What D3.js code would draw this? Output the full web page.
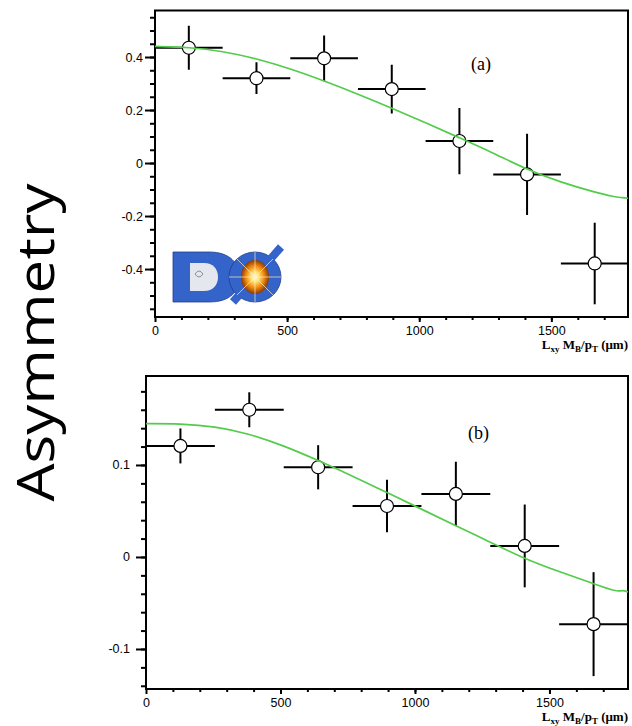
<!DOCTYPE html>
<html>
<head>
<meta charset="utf-8">
<script src="https://cdn.jsdelivr.net/npm/d3@7"></script>
<style>
  html, body { margin: 0; padding: 0; background: #fff; }
  svg { display: block; }
</style>
</head>
<body>
<svg id="chart" width="632" height="726"></svg>
<script>
// ---------- data ----------
const binCenters = [128, 384, 640, 896, 1152, 1408, 1664];
const binHalfWidth = 128;

const asymA = [0.435, 0.32, 0.395, 0.279, 0.083, -0.043, -0.379];
const errA  = [0.083, 0.06, 0.086, 0.092, 0.125, 0.153, 0.154];

const asymB = [0.1207, 0.16, 0.0975, 0.0554, 0.0685, 0.012, -0.073];
const errB  = [0.019, 0.019, 0.024, 0.0286, 0.035, 0.045, 0.0565];

const fitXA = [0, 128, 256, 384, 512, 640, 768, 896, 1024, 1152, 1280, 1408, 1536, 1664, 1740, 1760, 1790];
const fitYA = [0.44, 0.437, 0.422, 0.394, 0.356, 0.31, 0.26, 0.207, 0.152, 0.095, 0.038, -0.025, -0.073, -0.11, -0.128, -0.13, -0.133];

const fitXB = [0, 128, 256, 384, 512, 640, 768, 896, 1024, 1152, 1280, 1408, 1536, 1664, 1750, 1770, 1792];
const fitYB = [0.145, 0.145, 0.142, 0.134, 0.121, 0.105, 0.088, 0.07, 0.052, 0.034, 0.016, -0.002, -0.016, -0.029, -0.038, -0.036, -0.038];

const xTickLabels = [0, 500, 1000, 1500];
const yTicksA = [-0.4, -0.2, 0, 0.2, 0.4];
const yTicksB = [-0.1, 0, 0.1];
const panelLabels = ["(a)", "(b)"];
const yTitle = "Asymmetry";

// ---------- drawing ----------
const svg = d3.select("#chart");
svg.append("rect").attr("width", 632).attr("height", 726).attr("fill", "#fff");

const green = "#52cc4a";

function drawPanel(cfg) {
  const x = d3.scaleLinear().domain(cfg.xDomain).range([cfg.left, cfg.right]);
  const y = d3.scaleLinear().domain(cfg.yDomain).range([cfg.bottom, cfg.top]);
  const g = svg.append("g");

  // y minor ticks
  g.append("g").attr("transform", `translate(${cfg.left},0)`)
    .call(d3.axisLeft(y).tickValues(cfg.yMinor).tickSize(5).tickFormat(""))
    .call(s => s.select(".domain").remove())
    .selectAll("line").attr("stroke", "#000").attr("stroke-width", 2);
  // y major ticks
  const ya = g.append("g").attr("transform", `translate(${cfg.left},0)`)
    .call(d3.axisLeft(y).tickValues(cfg.yTicks).tickSize(10).tickPadding(cfg.yPad).tickFormat(d => String(d)));
  ya.select(".domain").remove();
  ya.selectAll("line").attr("stroke", "#000").attr("stroke-width", 2);
  ya.selectAll("text").attr("font-family", "Liberation Sans, Arial, sans-serif").attr("font-size", 12.5).attr("fill", "#000");

  // x minor ticks
  g.append("g").attr("transform", `translate(0,${cfg.bottom})`)
    .call(d3.axisBottom(x).tickValues(d3.range(100, cfg.xDomain[1], 100)).tickSize(3).tickFormat(""))
    .call(s => s.select(".domain").remove())
    .selectAll("line").attr("stroke", "#000").attr("stroke-width", 2);
  // x major ticks
  const xa = g.append("g").attr("transform", `translate(0,${cfg.bottom})`)
    .call(d3.axisBottom(x).tickValues(xTickLabels).tickSize(5).tickPadding(4).tickFormat(d => String(d)));
  xa.select(".domain").remove();
  xa.selectAll("line").attr("stroke", "#000").attr("stroke-width", 2);
  xa.selectAll("text").attr("font-family", "Liberation Sans, Arial, sans-serif").attr("font-size", 12.5).attr("fill", "#000");

  // frame
  g.append("rect")
    .attr("x", cfg.left).attr("y", cfg.top)
    .attr("width", cfg.right - cfg.left).attr("height", cfg.bottom - cfg.top)
    .attr("fill", "none").attr("stroke", "#000").attr("stroke-width", 2);

  // x axis title
  const t = g.append("text")
    .attr("x", cfg.right).attr("y", cfg.titleY)
    .attr("text-anchor", "end")
    .attr("font-family", "Liberation Serif, Times New Roman, serif")
    .attr("font-weight", "bold").attr("font-size", 13).attr("fill", "#000");
  const parts = [["L", 0], ["xy", 1], [" M", 0], ["B", 1], ["/p", 0], ["T", 1], [" (\u03bcm)", 0]];
  let prevSub = 0;
  parts.forEach(([s, sub]) => {
    const dy = sub && !prevSub ? 3 : (!sub && prevSub ? -3 : 0);
    t.append("tspan").attr("dy", dy).attr("font-size", sub ? 9 : 13).text(s);
    prevSub = sub;
  });

  // panel label
  g.append("text")
    .attr("x", cfg.labelX).attr("y", cfg.labelY)
    .attr("font-family", "Liberation Serif, Times New Roman, serif")
    .attr("font-size", 18).attr("fill", "#000")
    .text(cfg.label);

  // data points with error bars
  const clipId = "clip" + cfg.label.replace(/\W/g, "");
  svg.append("clipPath").attr("id", clipId).append("rect")
    .attr("x", cfg.left).attr("y", cfg.top)
    .attr("width", cfg.right - cfg.left).attr("height", cfg.bottom - cfg.top);
  const pts = g.append("g").attr("clip-path", `url(#${clipId})`);
  const data = binCenters.map((c, i) => ({ x: c, y: cfg.vals[i], e: cfg.errs[i] }));
  pts.selectAll("line.h").data(data).join("line").attr("class", "h")
    .attr("x1", d => x(d.x - binHalfWidth)).attr("x2", d => x(d.x + binHalfWidth))
    .attr("y1", d => y(d.y)).attr("y2", d => y(d.y))
    .attr("stroke", "#000").attr("stroke-width", 2);
  pts.selectAll("line.v").data(data).join("line").attr("class", "v")
    .attr("x1", d => x(d.x)).attr("x2", d => x(d.x))
    .attr("y1", d => y(d.y - d.e)).attr("y2", d => y(d.y + d.e))
    .attr("stroke", "#000").attr("stroke-width", 2);
  pts.selectAll("circle").data(data).join("circle")
    .attr("cx", d => x(d.x)).attr("cy", d => y(d.y)).attr("r", 6.5)
    .attr("fill", "#fff").attr("stroke", "#000").attr("stroke-width", 1.2);

  // fit curve
  const line = d3.line().x(d => x(d[0])).y(d => y(d[1])).curve(d3.curveBasis);
  pts.append("path")
    .datum(cfg.fitX.map((v, i) => [v, cfg.fitY[i]]))
    .attr("d", line).attr("fill", "none").attr("stroke", green).attr("stroke-width", 1.7);

  return { x, y };
}

drawPanel({
  left: 155, right: 628, top: 10.5, bottom: 317,
  xDomain: [0, 1790], yDomain: [-0.581, 0.5755],
  yTicks: yTicksA, yMinor: d3.range(-0.55, 0.56, 0.05).map(v => +v.toFixed(2)),
  yPad: 2, titleY: 349, label: panelLabels[0], labelX: 471, labelY: 70,
  vals: asymA, errs: errA, fitX: fitXA, fitY: fitYA
});

drawPanel({
  left: 146, right: 628, top: 376, bottom: 689,
  xDomain: [0, 1792], yDomain: [-0.1435, 0.1967],
  yTicks: yTicksB, yMinor: d3.range(-0.14, 0.19, 0.02).map(v => +v.toFixed(2)),
  yPad: 6, titleY: 721, label: panelLabels[1], labelX: 468, labelY: 439,
  vals: asymB, errs: errB, fitX: fitXB, fitY: fitYB
});

// y title
svg.append("text")
  .attr("transform", "translate(54,342.5) rotate(-90)")
  .attr("text-anchor", "middle")
  .attr("font-family", "Open Sans, DejaVu Sans, sans-serif")
  .attr("font-weight", 400)
  .attr("font-size", 52)
  .attr("textLength", 318).attr("lengthAdjust", "spacingAndGlyphs")
  .attr("fill", "#000")
  .text(yTitle);

// D0 logo (approximation)
const defs = svg.append("defs");
const rg = defs.append("radialGradient").attr("id", "burst");
rg.append("stop").attr("offset", "0%").attr("stop-color", "#ffffff");
rg.append("stop").attr("offset", "30%").attr("stop-color", "#ffe070");
rg.append("stop").attr("offset", "65%").attr("stop-color", "#f08a10");
rg.append("stop").attr("offset", "100%").attr("stop-color", "#8a3a05");

const logo = svg.append("g").attr("transform", "translate(171,246)");
const blue = "#3463c9";
const dark = "#1f3f8f";
logo.append("path")
  .attr("d", "M2,6 L38,6 C60,6 68,18 68,31 C68,45 60,56 38,56 L2,56 Z")
  .attr("fill", blue).attr("stroke", dark).attr("stroke-width", 0.8);
logo.append("path")
  .attr("d", "M19,17 L33,17 C42,17 47,23 47,31 C47,39 42,45 33,45 L19,45 Z")
  .attr("fill", "#e4e8ee");
logo.append("ellipse").attr("cx", 84).attr("cy", 31).attr("rx", 26).attr("ry", 25)
  .attr("fill", blue).attr("stroke", dark).attr("stroke-width", 0.8);
logo.append("line").attr("x1", 62).attr("y1", 56).attr("x2", 110).attr("y2", 1)
  .attr("stroke", blue).attr("stroke-width", 8);
logo.append("ellipse").attr("cx", 84).attr("cy", 31).attr("rx", 14).attr("ry", 17).attr("fill", "url(#burst)");
[[58, 31, 110, 31], [84, 6, 84, 56], [66, 13, 102, 49], [66, 49, 102, 13]].forEach(r => {
  logo.append("line").attr("x1", r[0]).attr("y1", r[1]).attr("x2", r[2]).attr("y2", r[3])
    .attr("stroke", "#fff3c0").attr("stroke-width", 0.8).attr("opacity", 0.85);
});
logo.append("path").attr("d", "M24,28 q4,-6 8,0 q-4,6 -8,0").attr("fill", "none").attr("stroke", "#777").attr("stroke-width", 0.8);
</script>
</body>
</html>
